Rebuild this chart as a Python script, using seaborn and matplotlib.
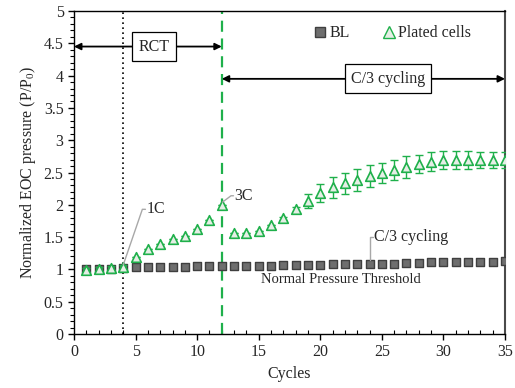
import numpy as np
import pandas as pd
import matplotlib
matplotlib.use("Agg")
import matplotlib.pyplot as plt
from matplotlib.ticker import MultipleLocator
from matplotlib.lines import Line2D
import seaborn as sns

# Cycle numbers
cycles = list(range(1, 36))

# Baseline cells: normalized end-of-charge pressure
bl_pressure = [1.00, 1.00, 1.01, 1.02, 1.03, 1.03, 1.04, 1.04, 1.04, 1.05,
               1.05, 1.05, 1.06, 1.06, 1.06, 1.06, 1.07, 1.07, 1.07, 1.07,
               1.08, 1.08, 1.08, 1.09, 1.09, 1.09, 1.10, 1.10, 1.11, 1.11,
               1.11, 1.12, 1.12, 1.12, 1.13]

# Plated cells: normalized end-of-charge pressure and spread
plated_pressure = [0.99, 1.00, 1.02, 1.04, 1.19, 1.32, 1.40, 1.47, 1.52, 1.62,
                   1.76, 1.99, 1.56, 1.56, 1.60, 1.68, 1.79, 1.93, 2.06, 2.18,
                   2.27, 2.33, 2.39, 2.45, 2.49, 2.54, 2.58, 2.63, 2.67, 2.69,
                   2.69, 2.69, 2.69, 2.69, 2.69]
plated_err = [0.03, 0.03, 0.03, 0.03, 0.00, 0.00, 0.00, 0.00, 0.00, 0.00,
              0.00, 0.00, 0.00, 0.00, 0.00, 0.00, 0.02, 0.04, 0.11, 0.14,
              0.16, 0.165, 0.17, 0.17, 0.15, 0.15, 0.17, 0.14, 0.14, 0.14,
              0.14, 0.14, 0.12, 0.12, 0.12]

series_names = ["BL", "Plated cells"]

sns.set_theme(style="white")
plt.rcParams["font.family"] = ["Liberation Serif", "DejaVu Serif"]
plt.rcParams["mathtext.fontset"] = "custom"
plt.rcParams["mathtext.rm"] = "Liberation Serif"
plt.rcParams["mathtext.it"] = "Liberation Serif:italic"

GREEN = "#1fb04b"
FS = 11.5

fig = plt.figure(figsize=(5.15, 3.88), dpi=100)
ax = fig.add_axes([0.1437, 0.1392, 0.9806 - 0.1437, 0.9716 - 0.1392])

bl_df = pd.DataFrame({"Cycles": cycles, "Pressure": bl_pressure})
pl_df = pd.DataFrame({"Cycles": cycles, "Pressure": plated_pressure})

# Baseline squares
sns.scatterplot(data=bl_df, x="Cycles", y="Pressure", marker="s", s=30,
                color="#6e6e6e", edgecolor="#3f3f3f", linewidth=1.0,
                ax=ax, legend=False, zorder=3)

# Error bars for plated cells
ax.errorbar(cycles, plated_pressure, yerr=plated_err, fmt="none",
            ecolor=GREEN, elinewidth=1.0, capsize=3, capthick=1.0, zorder=4)

# Plated-cell triangles
sns.scatterplot(data=pl_df, x="Cycles", y="Pressure", marker="^", s=48,
                color="#e6eee6", edgecolor=GREEN, linewidth=1.2,
                ax=ax, legend=False, zorder=5)

# Vertical markers for rate changes
ax.axvline(4, color="black", linestyle=(0, (1, 2)), linewidth=1.2, zorder=1)
ax.axvline(12, color=GREEN, linestyle=(0, (5, 3)), linewidth=1.6, zorder=1)

# Phase arrows
arrow_kw = dict(arrowstyle="<|-|>", color="black", lw=1.3, mutation_scale=10,
                shrinkA=0, shrinkB=0)
ax.annotate("", xy=(0, 4.45), xytext=(12, 4.45), arrowprops=arrow_kw)
ax.annotate("", xy=(12, 3.95), xytext=(35, 3.95), arrowprops=arrow_kw)
ax.text(6.5, 4.45, "RCT", ha="center", va="center", fontsize=FS,
        bbox=dict(boxstyle="square,pad=0.4", fc="white", ec="black", lw=0.9))
ax.text(25.5, 3.95, "C/3 cycling", ha="center", va="center", fontsize=FS,
        bbox=dict(boxstyle="square,pad=0.4", fc="white", ec="black", lw=0.9))

# Callout labels
lc = "#a8a8a8"
ax.plot([4.0, 5.55, 5.8], [1.07, 1.93, 1.93], color=lc, lw=1.0, zorder=6)
ax.text(5.9, 1.93, "1C", ha="left", va="center", fontsize=FS)
ax.plot([12.05, 12.75, 12.95], [2.04, 2.14, 2.14], color=lc, lw=1.0, zorder=6)
ax.text(13.05, 2.14, "3C", ha="left", va="center", fontsize=FS)
ax.plot([24.05, 24.05, 24.3], [1.15, 1.50, 1.50], color=lc, lw=1.0, zorder=6)
ax.text(24.4, 1.50, "C/3 cycling", ha="left", va="center", fontsize=FS)
ax.text(21.7, 0.84, "Normal Pressure Threshold", ha="center", va="center",
        fontsize=10.5)

# Legend
handles = [
    Line2D([], [], marker="s", linestyle="none", markersize=7,
           markerfacecolor="#6e6e6e", markeredgecolor="#3f3f3f"),
    Line2D([], [], marker="^", linestyle="none", markersize=8,
           markerfacecolor="#e6eee6", markeredgecolor=GREEN),
]
ax.legend(handles, series_names, loc="upper right", ncol=2, frameon=False,
          fontsize=FS, handletextpad=0.1, columnspacing=1.9,
          bbox_to_anchor=(0.955, 1.0), handlelength=1.0)

ax.set_xlim(0, 35)
ax.set_ylim(0, 5)
ax.xaxis.set_minor_locator(MultipleLocator(1))
ax.yaxis.set_minor_locator(MultipleLocator(0.1))
ax.set_xticks(range(0, 36, 5))
ax.set_xticklabels([str(v) for v in range(0, 36, 5)])
ax.set_yticks(np.arange(0, 5.01, 0.5))
ax.set_yticklabels(["0", "0.5", "1", "1.5", "2", "2.5", "3", "3.5", "4", "4.5", "5"])
ax.tick_params(axis="both", which="major", direction="out", length=4,
               width=1, labelsize=FS, color="black", bottom=True, left=True)
ax.tick_params(axis="x", which="minor", direction="in", length=3, width=0.8,
               bottom=True, color="black")
ax.tick_params(axis="y", which="minor", direction="out", length=3, width=0.8,
               left=True, color="black")

for name, sp in ax.spines.items():
    sp.set_visible(True)
    sp.set_color("black")
    sp.set_linewidth(1.0)
ax.spines["right"].set_color("#4a4a4a")
ax.spines["right"].set_linewidth(1.5)

ax.set_xlabel("Cycles", fontsize=FS, labelpad=4)
ax.set_ylabel("Normalized EOC pressure (P/P$_0$)", fontsize=FS, labelpad=4)
ax.grid(False)

fig.savefig("out.png", dpi=100)
